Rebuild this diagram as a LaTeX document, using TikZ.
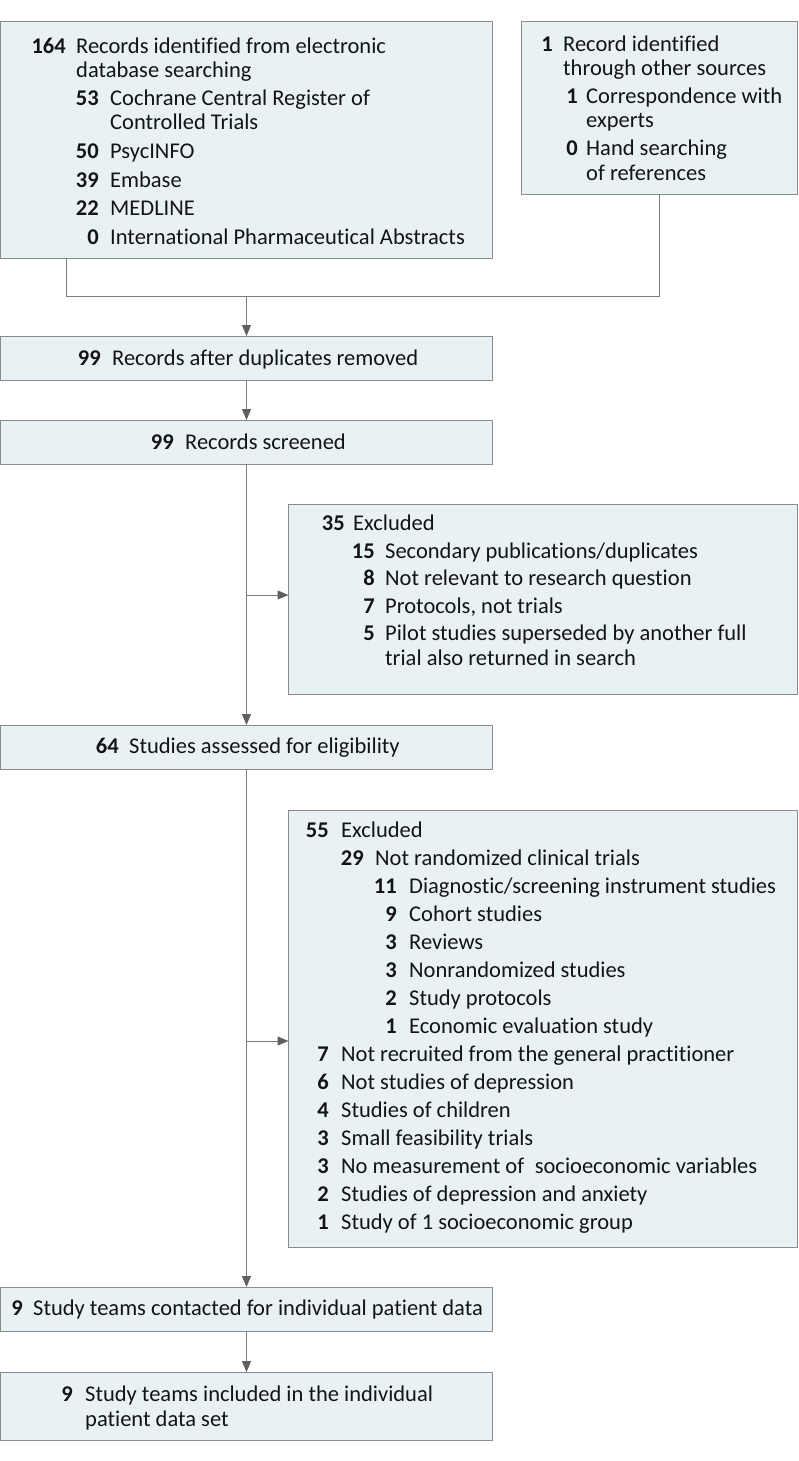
\documentclass[tikz,border=0pt]{standalone}
\usepackage{fontspec}
\setmainfont{Carlito}[Ligatures=NoCommon]
\usetikzlibrary{arrows.meta}
\definecolor{boxfill}{RGB}{232,242,244}
\definecolor{boxline}{RGB}{140,140,140}
\definecolor{linegray}{RGB}{125,125,125}
\definecolor{tipgray}{RGB}{95,95,95}
\definecolor{ink}{RGB}{20,20,20}
\newcommand\flrow[6]{\node[num] (#1n) at (#2,#4) {#5}; \node[txt] (#1t) at (#3,#4) {#6};}
\newcommand\flwrap[4]{\node[txt] (#1t) at (#2,#3) {#4};}
\begin{document}
\begin{tikzpicture}[x=1pt,y=-1pt,
 box/.style={draw=boxline, fill=boxfill, line width=1pt, anchor=north west, inner sep=0pt, outer sep=0pt},
 num/.style={anchor=base east, inner sep=0pt, font=\fontsize{22.5}{26}\selectfont\bfseries, text=ink},
 txt/.style={anchor=base west, inner sep=0pt, font=\fontsize{22.5}{26}\selectfont, text=ink},
 conn/.style={draw=linegray, line width=1pt},
 arr/.style={conn, -{Triangle[length=11pt,width=9pt,color=tipgray]}}]
\useasboundingbox (0,0) rectangle (798,1461);
% boxes
\node[box, minimum width=492pt, minimum height=236.5pt] (b1) at (0.5,21.5) {};
\node[box, minimum width=276pt, minimum height=172.5pt] (b2) at (521,21.5) {};
\node[box, minimum width=492pt, minimum height=44pt] (b3) at (0.5,336) {};
\node[box, minimum width=492pt, minimum height=44pt] (b4) at (0.5,420) {};
\node[box, minimum width=508.5pt, minimum height=190pt] (b5) at (288.5,504) {};
\node[box, minimum width=492pt, minimum height=44pt] (b6) at (0.5,725) {};
\node[box, minimum width=508.5pt, minimum height=437pt] (b7) at (288.5,810) {};
\node[box, minimum width=492pt, minimum height=44pt] (b8) at (0.5,1287) {};
\node[box, minimum width=492pt, minimum height=68pt] (b9) at (0.5,1372) {};
% connectors
\coordinate (j) at (246.5,296);
\draw[conn] ([xshift=66pt]b1.south west) |- (j);
\draw[conn] ([xshift=138pt]b2.south west) |- (j);
\draw[arr] (j) -- (b3.north);
\draw[arr] (b3.south) -- (b4.north);
\draw[arr] (b4.south) -- (b6.north);
\coordinate (e1) at (246.5,595);
\draw[arr] (e1) -- (e1 -| b5.west);
\draw[arr] (b6.south) -- (b8.north);
\coordinate (e2) at (246.5,1041);
\draw[arr] (e2) -- (e2 -| b7.west);
\draw[arr] (b8.south) -- (b9.north);
% box 1
\flrow{a1}{66}{76}{53.5}{164}{Records identified from electronic}
\flwrap{a2}{76}{78}{database searching}
\flrow{a3}{99}{110}{105.5}{53}{Cochrane Central Register of}
\flwrap{a4}{110}{130}{Controlled Trials}
\flrow{a5}{99}{110}{158.5}{50}{PsycINFO}
\flrow{a6}{99}{110}{187}{39}{Embase}
\flrow{a7}{99}{110}{215.5}{22}{MEDLINE}
\flrow{a8}{99}{110}{244}{0}{International Pharmaceutical Abstracts}
% box 2
\flrow{c1}{553}{563}{51.5}{1}{Record identified}
\flwrap{c2}{563}{76}{through other sources}
\flrow{c3}{578}{586}{103.5}{1}{Correspondence with}
\flwrap{c4}{586}{128}{experts}
\flrow{c5}{578}{586}{155.5}{0}{Hand searching}
\flwrap{c6}{586}{180}{of references}
% box 3, 4
\flrow{d1}{101}{112}{365}{99}{Records after duplicates removed}
\flrow{f1}{174}{185}{449}{99}{Records screened}
% box 5
\flrow{g1}{345}{353}{530.5}{35}{Excluded}
\flrow{g2}{375}{385}{558}{15}{Secondary publications/duplicates}
\flrow{g3}{375}{385}{585.5}{8}{Not relevant to research question}
\flrow{g4}{375}{385}{613}{7}{Protocols, not trials}
\flrow{g5}{375}{385}{640.5}{5}{Pilot studies superseded by another full}
\flwrap{g6}{385}{665}{trial also returned in search}
% box 6
\flrow{h1}{119}{129}{753.5}{64}{Studies assessed for eligibility}
% box 7
\flrow{k1}{329}{341}{837.5}{55}{Excluded}
\flrow{k2}{364}{375}{865.5}{29}{Not randomized clinical trials}
\flrow{k3}{397}{409}{893.5}{11}{Diagnostic/screening instrument studies}
\flrow{k4}{397}{409}{921.5}{9}{Cohort studies}
\flrow{k5}{397}{409}{949.5}{3}{Reviews}
\flrow{k6}{397}{409}{977.5}{3}{Nonrandomized studies}
\flrow{k7}{397}{409}{1005.5}{2}{Study protocols}
\flrow{k8}{397}{409}{1033.5}{1}{Economic evaluation study}
\flrow{k9}{329}{341}{1061.5}{7}{Not recruited from the general practitioner}
\flrow{k10}{329}{341}{1089.5}{6}{Not studies of depression}
\flrow{k11}{329}{341}{1117.5}{4}{Studies of children}
\flrow{k12}{329}{341}{1145.5}{3}{Small feasibility trials}
\flrow{k13}{329}{341}{1173.5}{3}{No measurement of\hspace{0.25em} socioeconomic variables}
\flrow{k14}{329}{341}{1201.5}{2}{Studies of depression and anxiety}
\flrow{k15}{329}{341}{1229.5}{1}{Study of 1 socioeconomic group}
% box 8, 9
\flrow{m1}{23}{33}{1315.5}{9}{Study teams contacted for individual patient data}
\flrow{p1}{73}{85}{1401.5}{9}{Study teams included in the individual}
\flwrap{p2}{85}{1426}{patient data set}
\end{tikzpicture}
\end{document}
